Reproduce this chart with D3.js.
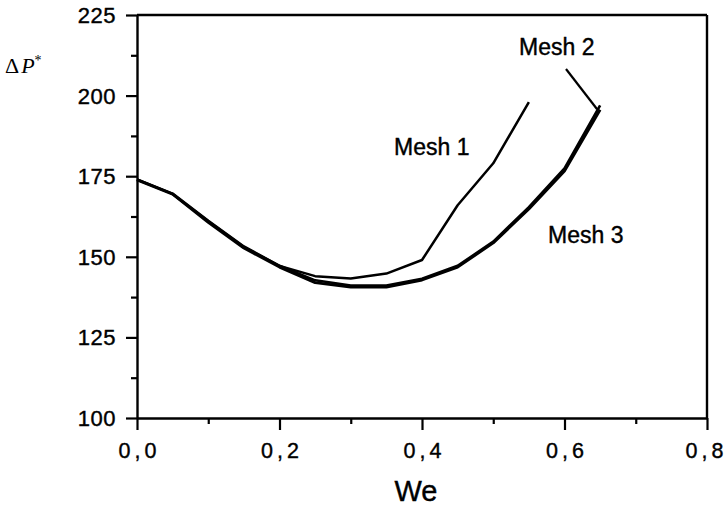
<!DOCTYPE html>
<html><head><meta charset="utf-8">
<script src="https://cdn.jsdelivr.net/npm/d3@7"></script>
<style>body{margin:0;background:#fff}svg{display:block}</style>
</head><body>
<svg id="c" width="727" height="507"></svg>
<script>
const weValues = [0, 0.05, 0.1, 0.15, 0.2, 0.25, 0.3, 0.35, 0.4, 0.45, 0.5, 0.55, 0.6, 0.65];
const mesh1 = [174, 169.5, 161, 153, 147.2, 144, 143.3, 144.8, 149, 166, 179, 198];
const mesh2 = [174, 169.6, 161.2, 153.2, 147.2, 142.7, 141.1, 141.1, 143.2, 147.2, 154.7, 165.4, 177.4, 197];
const mesh3 = [173.8, 169.4, 160.7, 152.7, 146.8, 142.0, 140.6, 140.6, 142.8, 146.8, 154.3, 164.8, 176.6, 195.6];
const xTicks = [0, 0.2, 0.4, 0.6, 0.8];
const xTickLabels = ["0,0", "0,2", "0,4", "0,6", "0,8"];
const xMinor = [0.1, 0.3, 0.5, 0.7];
const yTicks = [100, 125, 150, 175, 200, 225];
const yMinor = [112.5, 137.5, 162.5, 187.5, 212.5];
const seriesLabels = ["Mesh 1", "Mesh 2", "Mesh 3"];

const svg = d3.select("#c");
const x = d3.scaleLinear().domain([0, 0.8]).range([137, 707]);
const y = d3.scaleLinear().domain([100, 225]).range([418, 15]);
const SANS = "Liberation Sans, Arial, sans-serif";

// frame top and right
svg.append("line").attr("x1", x(0)).attr("x2", x(0.8)).attr("y1", y(225)).attr("y2", y(225))
  .attr("stroke", "#000").attr("stroke-width", 2.4);
svg.append("line").attr("x1", x(0.8)).attr("x2", x(0.8)).attr("y1", y(225)).attr("y2", y(100))
  .attr("stroke", "#000").attr("stroke-width", 2.4);

function styleAxis(g){
  g.select(".domain").attr("stroke-width", 2.4);
  g.selectAll(".tick line").attr("stroke-width", 2.2);
}
// x axis
const gx = svg.append("g").attr("transform", `translate(0,${y(100)})`)
  .call(d3.axisBottom(x).tickValues(xTicks).tickSize(12).tickSizeOuter(0)
    .tickFormat((d, i) => xTickLabels[i]));
styleAxis(gx);
gx.selectAll("text").attr("font-family", SANS)
  .attr("font-size", 21.5).attr("letter-spacing", "4px").attr("dx", (d, i) => i === 4 ? -1 : 2)
  .attr("dy", 0).attr("y", 40).attr("stroke", "#000").attr("stroke-width", 0.4);
svg.append("g").attr("transform", `translate(0,${y(100)})`)
  .call(d3.axisBottom(x).tickValues(xMinor).tickSize(6).tickFormat(""))
  .call(g => { g.select(".domain").remove(); g.selectAll(".tick line").attr("stroke-width", 2.2); });

// y axis
const gy = svg.append("g").attr("transform", `translate(${x(0)},0)`)
  .call(d3.axisLeft(y).tickValues(yTicks).tickSize(11).tickSizeOuter(0));
styleAxis(gy);
gy.selectAll("text").attr("font-family", SANS)
  .attr("font-size", 22).attr("x", -21).attr("dy", "0.34em").attr("letter-spacing", "0.5px")
  .attr("stroke", "#000").attr("stroke-width", 0.4);
svg.append("g").attr("transform", `translate(${x(0)},0)`)
  .call(d3.axisLeft(y).tickValues(yMinor).tickSize(6).tickFormat(""))
  .call(g => { g.select(".domain").remove(); g.selectAll(".tick line").attr("stroke-width", 2.2); });

// lines
const line = d3.line().x((d, i) => x(weValues[i])).y(d => y(d));
svg.append("path").datum(mesh3).attr("d", line).attr("fill", "none").attr("stroke", "#000")
  .attr("stroke-width", 2.8).attr("stroke-linejoin", "round");
svg.append("path").datum(mesh2).attr("d", line).attr("fill", "none").attr("stroke", "#000")
  .attr("stroke-width", 2.6).attr("stroke-linejoin", "round");
svg.append("path").datum(mesh1).attr("d", line).attr("fill", "none").attr("stroke", "#000")
  .attr("stroke-width", 2.5).attr("stroke-linejoin", "round");

// labels
const lab = svg.append("g").attr("font-family", SANS).attr("font-size", 23)
  .attr("stroke", "#000").attr("stroke-width", 0.4);
lab.append("text").attr("x", 394).attr("y", 155).text(seriesLabels[0]);
lab.append("text").attr("x", 519).attr("y", 55).text(seriesLabels[1]);
lab.append("text").attr("x", 548).attr("y", 243).text(seriesLabels[2]);
// leader line for Mesh 2
svg.append("line").attr("x1", 566).attr("y1", 69).attr("x2", x(0.65) - 3).attr("y2", y(mesh2[13]) + 4)
  .attr("stroke", "#000").attr("stroke-width", 2.2);

// axis titles
svg.append("text").attr("x", 416).attr("y", 501).attr("text-anchor", "middle")
  .attr("font-family", SANS).attr("font-size", 29).attr("stroke", "#000").attr("stroke-width", 0.4).text("We");
const yt = svg.append("text").attr("x", 5).attr("y", 73)
  .attr("font-family", "Liberation Serif, Times New Roman, serif").attr("font-size", 22);
yt.append("tspan").text("Δ");
yt.append("tspan").attr("font-style", "italic").attr("dx", 2).text("P");
yt.append("tspan").attr("font-size", 14).attr("dy", -8).text("*");
</script>
</body></html>
